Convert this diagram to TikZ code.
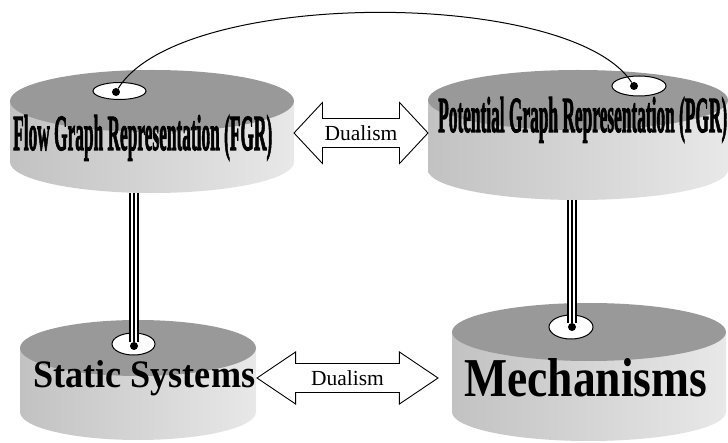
\documentclass[tikz,border=0pt]{standalone}
\usepackage{fontspec}
\setmainfont{Liberation Serif}
\newfontfamily\heavyfont[FakeBold=2.5]{Liberation Serif}
\usetikzlibrary{shapes.arrows}

\tikzset{
  side/.style={left color=black!24, right color=black!9},
  lid/.style={fill=black!40},
  hole/.style={draw, fill=white, line width=1pt},
  dot/.style={circle, fill=black, inner sep=0pt, minimum size=8pt},
  link/.style={preaction={draw, line width=10pt}, preaction={draw, white, line width=6.5pt}, draw, line width=2.5pt},
  dual/.style={double arrow, draw, line width=0.9pt, fill=white, font=\fontsize{21.5}{23}\selectfont, inner xsep=2pt, inner ysep=6.5pt},
  label/.style={anchor=base west, inner sep=0pt}
}

\begin{document}
\begin{tikzpicture}[x=1pt, y=-1pt]
    \useasboundingbox (0,0) rectangle (728,443);
    % Draw the cylinders
    \shade[side] (10,101) -- (10,162) arc[start angle=180, end angle=0, x radius=142, y radius=31] -- (294,101) -- cycle;
    \fill[lid] (152,101) ellipse [x radius=142, y radius=31];
    \shade[side] (428,100) -- (428,170) arc[start angle=180, end angle=0, x radius=150, y radius=30] -- (728,100) -- cycle;
    \fill[lid] (578,100) ellipse [x radius=150, y radius=30];
    \shade[side] (20,348) -- (20,412) arc[start angle=180, end angle=0, x radius=118, y radius=28] -- (256,348) -- cycle;
    \fill[lid] (138,348) ellipse [x radius=118, y radius=28];
    \shade[side] (452,332) -- (452,412) arc[start angle=180, end angle=0, x radius=137, y radius=29] -- (726,332) -- cycle;
    \fill[lid] (589,332) ellipse [x radius=137, y radius=29];
    % Draw the holes and dots
    \draw[hole] (119.5,91) ellipse [x radius=26.5, y radius=8.5];
    \draw[hole] (639,86) ellipse [x radius=27, y radius=10];
    \draw[hole] (133.5,344) ellipse [x radius=21.5, y radius=11];
    \draw[hole] (571,327) ellipse [x radius=22, y radius=12];
    \node[dot] (fgrdot) at (116,92) {};
    \node[dot] (pgrdot) at (634,86) {};
    \node[dot] (ssdot) at (134,346) {};
    \node[dot] (mechdot) at (572,327) {};
    % Draw the labels
    \node[label] (fgr) at (13,150) {\resizebox{259pt}{35pt}{\heavyfont\bfseries Flow Graph Representation (FGR)}};
    \node[label] (pgr) at (438,132) {\resizebox{289pt}{35pt}{\heavyfont\bfseries Potential Graph Representation (PGR)}};
    \node[label] (ss) at (33,388) {\resizebox{222pt}{27pt}{\bfseries Static Systems}};
    \node[label] (mech) at (464,396) {\resizebox{243pt}{38pt}{\bfseries Mechanisms}};
    % Draw the links
    \coordinate (fgrbase) at (134,193);
    \coordinate (pgrbase) at (572,200);
    \draw[link] (fgrbase) -- (ssdot);
    \draw[link] (pgrbase) -- (mechdot);
    \draw[line width=1pt] (fgrdot) .. controls (180,-12) and (570,-12) .. (pgrdot);
    % Draw the dualism arrows
    \node[dual, minimum height=134pt, double arrow head extend=16pt, double arrow tip angle=94] (dualtop) at (361,133) {Dualism};
    \node[dual, minimum height=181pt, double arrow head extend=11.5pt, double arrow tip angle=68] (dualbot) at (347.5,378) {Dualism};
\end{tikzpicture}
\end{document}
